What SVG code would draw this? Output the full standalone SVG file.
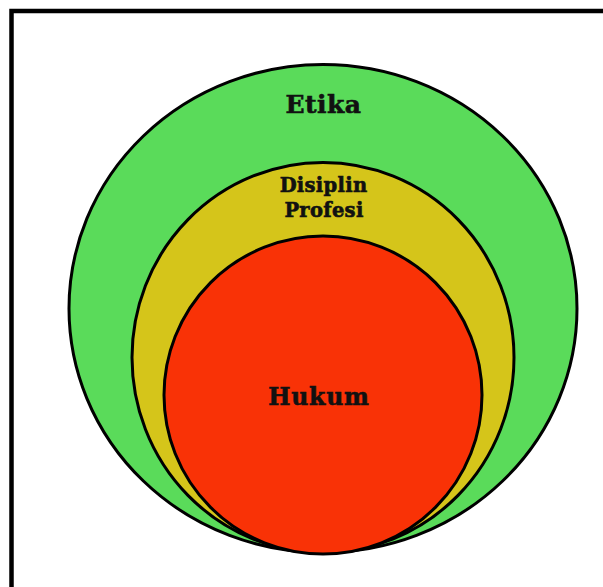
<svg xmlns="http://www.w3.org/2000/svg" width="603" height="587" viewBox="0 0 603 587">
<style>
.ring{stroke:#000;stroke-width:3}
.lbl{font-family:"DejaVu Serif","Liberation Serif",serif;font-weight:bold;fill:#111;stroke:#111;stroke-width:0.6;text-anchor:middle}
</style>
<rect x="0" y="0" width="603" height="587" fill="#fff"/>
<rect x="11.5" y="11" width="620" height="620" fill="none" stroke="#000" stroke-width="4.5"/>
<g id="etika">
<ellipse class="ring" cx="323" cy="308.5" rx="254" ry="244" fill="#5ADB5A"/>
<text class="lbl" x="323.5" y="113" font-size="25" letter-spacing="0.5">Etika</text>
</g>
<g id="disiplin-profesi">
<ellipse class="ring" cx="323" cy="357.5" rx="191" ry="195" fill="#D5C51A"/>
<text class="lbl" x="323.5" y="192" font-size="19.5" letter-spacing="0.3">Disiplin</text>
<text class="lbl" x="324" y="217" font-size="19.5" letter-spacing="0.3">Profesi</text>
</g>
<g id="hukum">
<circle class="ring" cx="323" cy="395" r="159" fill="#F93206"/>
<text class="lbl" x="319" y="405" font-size="23.5" letter-spacing="0.8">Hukum</text>
</g>
<g id="connectors"></g>
</svg>
